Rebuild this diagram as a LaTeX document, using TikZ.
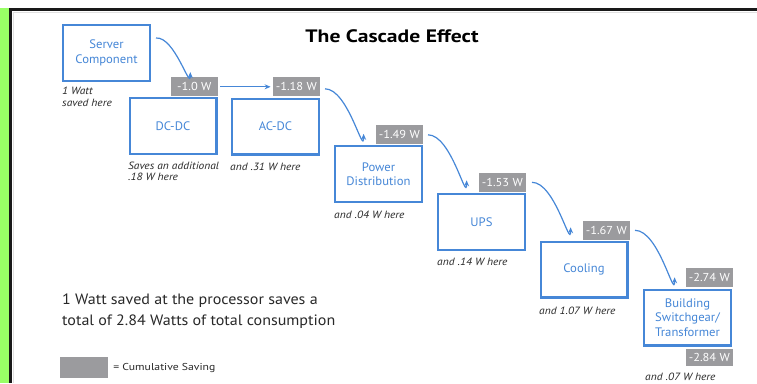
\documentclass[tikz,border=0pt]{standalone}
\usepackage{fontspec}
\setmainfont{PT Sans}
\usetikzlibrary{arrows.meta,calc}
\definecolor{boxblue}{RGB}{70,135,215}
\definecolor{labgray}{RGB}{155,155,158}
\definecolor{sidegreen}{RGB}{153,255,102}
\definecolor{notegray}{RGB}{40,40,40}
\tikzset{
  stage/.style={draw=boxblue, line width=2.4pt, fill=white,
    minimum width=86.6pt, minimum height=55.6pt, inner sep=0pt,
    align=center, text=boxblue,
    font=\fontsize{12.3}{14.5}\selectfont\addfontfeatures{FakeStretch=1.03}},
  saving/.style={fill=labgray, text=white, minimum width=47pt,
    minimum height=19pt, inner sep=0pt,
    font=\fontsize{11.5}{13}\selectfont\addfontfeatures{FakeStretch=1.08}},
  note/.style={font=\itshape\fontsize{10.5}{11.5}\selectfont\addfontfeatures{FakeStretch=1.09},
    align=left, inner sep=0pt, text=notegray, anchor=west},
  flow/.style={draw=boxblue, line width=1.2pt,
    -{Stealth[length=6pt,width=5pt]}},
}
\begin{document}
\begin{tikzpicture}[x=1pt,y=-1pt]
\useasboundingbox (0,0) rectangle (757,383);
% page edge: green margin and black frame
\fill[sidegreen] (0,8) rectangle (9.5,383);
\draw[black!12, line width=1pt] (13,12) -- (757,12);
\draw[black!12, line width=1pt] (13,12) -- (13,383);
\draw[black!90, line width=3pt] (10.5,8) -- (10.5,383);
\draw[black!90, line width=3pt] (9,9.5) -- (757,9.5);

% title
\node[font=\bfseries\fontsize{18}{20}\selectfont\addfontfeatures{FakeStretch=1.2}] (title) at (392,36) {The Cascade Effect};

% stages of the power chain
\node[stage] (srv)   at (106.5,53)    {Server\\Component};
\node[stage] (dcdc)  at (173,126)     {DC-DC};
\node[stage] (acdc)  at (275.5,126.5) {AC-DC};
\node[stage] (pdist) at (378.5,174)   {Power\\Distribution};
\node[stage] (ups)   at (481.5,222)   {UPS};
\node[stage] (cool)  at (584,269.5)   {Cooling};
\node[stage] (bldg)  at (687.5,317.5) {Building\\Switchgear/\\Transformer};

% cumulative savings
\node[saving, anchor=south east] (s1) at (218,96.5)  {-1.0 W};
\node[saving, anchor=south east] (s2) at (320,96.5)  {-1.18 W};
\node[saving, anchor=south east] (s3) at (423,144.5) {-1.49 W};
\node[saving, anchor=south east] (s4) at (526,192)   {-1.53 W};
\node[saving, anchor=south east] (s5) at (630,240)   {-1.67 W};
\node[saving, anchor=south east] (s6) at (733,287)   {-2.74 W};
\node[saving, anchor=north east, minimum height=17.5pt] (s7) at (733,348.5) {-2.84 W};

% per-stage notes
\node[note] (n0) at (62,97)    {1 Watt\\saved here};
\node[note] (n1) at (128,171.5) {Saves an additional\\.18 W here};
\node[note] (n2) at (230,167)  {and .31 W here};
\node[note] (n3) at (334,215)  {and .04 W here};
\node[note] (n4) at (437,262)  {and .14 W here};
\node[note] (n5) at (539,311)  {and 1.07 W here};
\node[note] (n6) at (645,376.5) {and .07 W here};

% cascade arrows
\draw[flow] ($(srv.east)+(5,-15)$) to[out=5,in=-90] ($(s1.north)+(-4,-5)$);
\draw[flow] ([xshift=2pt]s1.east) -- ([xshift=-2pt]s2.west);
\draw[flow] ($(s2.east)+(5,2)$) to[out=0,in=-90] ($(s3.west)+(-12,-1)$);
\draw[flow] ($(s3.east)+(5,0)$) to[out=0,in=-90] ($(s4.west)+(-12,-2)$);
\draw[flow] ($(s4.east)+(6,0)$) to[out=0,in=-90] ($(s5.west)+(-12,-3)$);
\draw[flow] ($(s5.east)+(5,0)$) to[out=0,in=-90] ($(s6.west)+(-11,0)$);

% summary and key
\node[anchor=west, align=left, inner sep=0pt, text=notegray,
      font=\fontsize{15}{21}\selectfont\addfontfeatures{FakeStretch=1.07}] (summary) at (62,311)
  {1 Watt saved at the processor saves a\\total of 2.84 Watts of total consumption};
\node[fill=labgray, minimum width=48pt, minimum height=21pt, inner sep=0pt] (key) at (84,367.5) {};
\node[anchor=west, inner sep=0pt, text=notegray,
      font=\fontsize{10}{11}\selectfont\addfontfeatures{FakeStretch=1.17}] (keytext) at ($(key.east)+(5,0.5)$) {= Cumulative Saving};
\end{tikzpicture}
\end{document}
